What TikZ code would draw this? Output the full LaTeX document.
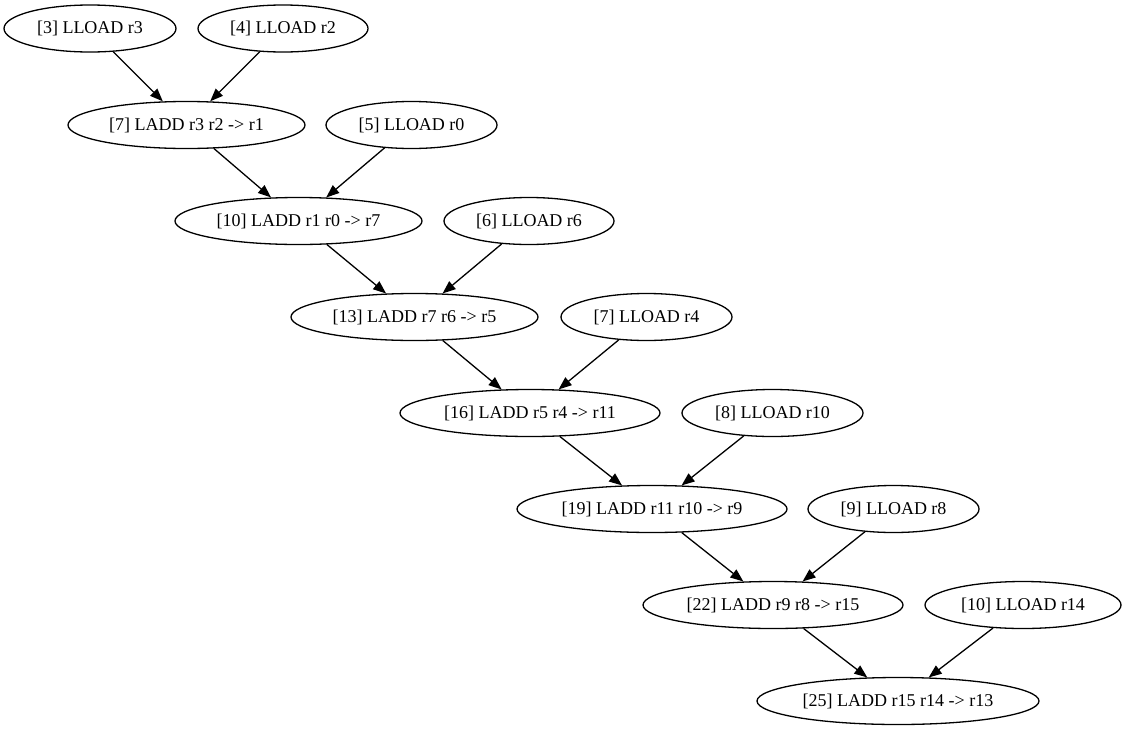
\documentclass[tikz,border=0pt]{standalone}
\usepackage{fontspec}
\setmainfont{Liberation Serif}
\usetikzlibrary{shapes.geometric,arrows.meta}
\begin{document}
\begin{tikzpicture}[x=1pt,y=-1pt,
		op/.style={ellipse,draw,line width=1.3pt,inner sep=0pt,minimum height=47pt,font=\fontsize{18}{22}\selectfont},
		dep/.style={-{Triangle[length=13pt,width=10pt]},line width=1.3pt}]
			\useasboundingbox (0,0) rectangle (1124,731);
			\node[op,minimum width=172pt] (r3) at (90,28.5) {[3] LLOAD r3};
			\node[op,minimum width=170pt] (r2) at (283,28.5) {[4] LLOAD r2};
			\node[op,minimum width=237pt] (r1) at (186.5,125) {[7] LADD r3 r2 -> r1};
			\node[op,minimum width=171pt] (r0) at (411.5,125) {[5] LLOAD r0};
			\node[op,minimum width=247pt] (r7) at (298.5,221) {[10] LADD r1 r0 -> r7};
			\node[op,minimum width=170pt] (r6) at (529,221) {[6] LLOAD r6};
			\node[op,minimum width=247pt] (r5) at (414.5,317) {[13] LADD r7 r6 -> r5};
			\node[op,minimum width=171pt] (r4) at (646.5,317) {[7] LLOAD r4};
			\node[op,minimum width=260pt] (r11) at (530,413) {[16] LADD r5 r4 -> r11};
			\node[op,minimum width=181pt] (r10) at (772.5,413) {[8] LLOAD r10};
			\node[op,minimum width=270pt] (r9) at (652,509) {[19] LADD r11 r10 -> r9};
			\node[op,minimum width=171pt] (r8) at (893.5,509) {[9] LLOAD r8};
			\node[op,minimum width=260pt] (r15) at (773,605) {[22] LADD r9 r8 -> r15};
			\node[op,minimum width=196pt] (r14) at (1023,605) {[10] LLOAD r14};
			\node[op,minimum width=282pt] (r13) at (898,701) {[25] LADD r15 r14 -> r13};
			\draw[dep] (r3) -- (r1);
			\draw[dep] (r2) -- (r1);
			\draw[dep] (r1) -- (r7);
			\draw[dep] (r0) -- (r7);
			\draw[dep] (r7) -- (r5);
			\draw[dep] (r6) -- (r5);
			\draw[dep] (r5) -- (r11);
			\draw[dep] (r4) -- (r11);
			\draw[dep] (r11) -- (r9);
			\draw[dep] (r10) -- (r9);
			\draw[dep] (r9) -- (r15);
			\draw[dep] (r8) -- (r15);
			\draw[dep] (r15) -- (r13);
			\draw[dep] (r14) -- (r13);
		\end{tikzpicture}
\end{document}
